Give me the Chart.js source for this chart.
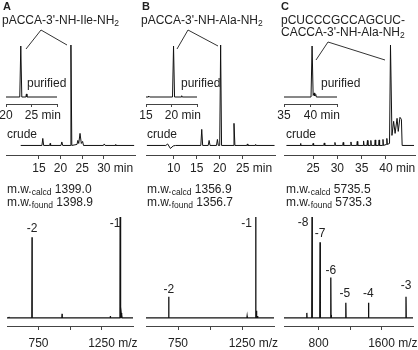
<!DOCTYPE html>
<html>
<head>
<meta charset="utf-8">
<script src="https://cdn.jsdelivr.net/npm/chart.js@4.4.0/dist/chart.umd.min.js"></script>
<style>
body { margin: 0; background: #fff; }
#fig { position: relative; width: 418px; height: 350px; overflow: hidden; background: #fff;
       font-family: "Liberation Sans", Arial, sans-serif; color: #222; }
#fig canvas { position: absolute; }
.t { position: absolute; font-size: 12px; line-height: 12px; white-space: nowrap; }
.t sub { font-size: 8.5px; line-height: 0; vertical-align: -2px; }
.lbl { font-weight: bold; font-size: 11px; line-height: 11px; }
svg { position: absolute; left: 0; top: 0; }
</style>
</head>
<body>
<div id="fig"></div>
<script>
// HPLC traces (time in min, absorbance relative to main peak = 100)
const insetA_time = [20, 22.7, 22.9, 23.1, 23.9, 24.0, 24.1, 30];
const insetA_abs  = [0, 0, 100, 0, 0, 6, 0, 0];
const crudeA_time = [10.8, 15.7, 15.9, 16.1, 17.5, 17.6, 17.7, 20.1, 20.3, 20.5, 22.2, 22.4, 22.6,
                     23.8, 24.0, 24.2, 24.5, 24.8, 25.1, 25.3, 29.9, 30.1, 30.3, 32.6, 32.7, 32.8, 37.0];
const crudeA_abs  = [0, 0, 7, 0, 0, 2, 0, 0, 3.5, 0, 0, 100, 0,
                     1, 5, 2, 12, 2, 4, 0, 0, 1.5, 0, 0, 1, 0, 0];

const insetB_time = [15, 15.4, 15.5, 15.7, 20.2, 20.4, 20.6, 21.9, 22.0, 22.1, 25];
const insetB_abs  = [0, 0, 2, 0, 0, 100, 0, 0, 2.5, 0, 0];
const crudeB_time = [4.2, 8.3, 8.7, 9.3, 9.9, 10.4, 15.9, 16.1, 16.3, 17.5, 17.7, 17.9, 19.3, 19.5, 19.7,
                     20.0, 20.2, 20.4, 22.9, 23.1, 23.3, 25.9, 26.0, 26.1, 27.7, 27.8, 27.9, 31.9];
const crudeB_abs  = [0, 0, 1.5, -3, -0.5, 0, 0, 16, 0, 0, 5, 0, 0, 6, 0,
                     0, 100, 0, 0, 22, 0, 0, 1.5, 0, 0, 1, 0, 0];

const insetC_time = [35, 40.1, 40.3, 40.5, 40.7, 40.8, 41.0, 41.1, 45];
const insetC_abs  = [0, 0, 100, 3, 8, 2, 5, 0, 0];
const crudeC_time = [19.5, 22.3, 22.4, 22.5, 24.9, 25.0, 25.1, 27.2, 27.3, 27.4, 29.4, 29.5, 29.6,
                     31.1, 31.2, 31.3, 32.7, 32.8, 32.9, 34.0, 34.1, 34.2, 35.3, 35.4, 35.5,
                     36.1, 36.2, 36.3, 36.8, 36.9, 37.0, 37.7, 37.8, 37.9, 38.5, 38.6, 38.7,
                     39.3, 39.4, 39.5, 40.1, 40.2, 40.3, 40.75, 40.95, 41.25, 41.6, 41.9, 42.3,
                     42.55, 42.9, 43.2, 43.35, 45.8];
const crudeC_abs  = [0, 0, 2, 0, 0, 2, 0, 0, 2.5, 0, 0, 3, 0,
                     0, 3, 0, 0, 3.5, 0, 0, 4, 0, 0, 4.5, 0,
                     0, 5, 0, 0, 5, 0, 0, 5.5, 0, 0, 5.5, 0,
                     0, 6, 0, 1, 7, 1, 2, 100, 10, 24, 12, 27,
                     14, 28, 26, 0, 0];

// ESI mass spectra (m/z, relative intensity)
const specA_mz  = [515, 698.5, 937, 1320, 1398, 1401, 1406, 1412];
const specA_int = [1, 80, 4, 2, 100, 8, 5, 3];
const specA_charge = ['-2', '-1'];
const specA_chargeMz = [698.5, 1398];

const specB_mz  = [677.5, 1290, 1357, 1360, 1365, 1372];
const specB_int = [21, 1.5, 100, 7, 4, 2];
const specB_charge = ['-2', '-1'];
const specB_chargeMz = [677.5, 1357];

const specC_mz  = [650, 716, 720, 818, 822, 955, 959, 1146, 1433, 1437, 1911];
const specC_int = [5, 100, 3, 75, 3, 40, 3, 15, 15, 3, 21];
const specC_charge = ['-8', '-7', '-6', '-5', '-4', '-3'];
const specC_chargeMz = [716, 818, 955, 1146, 1433, 1911];

// axis ticks
const crudeA_ticks = [15, 20, 25, 30], crudeA_shown = [15, 20, 25, 30];
const insetA_ticks = [20, 25, 30],     insetA_shown = [20, 25];
const crudeB_ticks = [10, 15, 20, 25], crudeB_shown = [10, 15, 20, 25];
const insetB_ticks = [15, 20, 25],     insetB_shown = [15, 20];
const crudeC_ticks = [25, 30, 35, 40], crudeC_shown = [25, 30, 35, 40];
const insetC_ticks = [35, 40, 45],     insetC_shown = [35, 40];
const specAB_ticks = [750, 1000, 1250], specAB_shown = [750, 1250];
const specC_ticks  = [800, 1200, 1600], specC_shown = [800, 1600];

const FONT = '"Liberation Sans", Arial, sans-serif';
Chart.defaults.font.family = FONT;
const fig = document.getElementById('fig');

function pts(xs, ys) {
    return xs.map((x, i) => ({ x: x, y: ys[i] }));
}

// turn a peak list into a stick trace across the full m/z range
function sticks(mz, inten, lo, hi, d) {
    const out = [{ x: lo, y: 0 }];
    mz.forEach((m, i) => {
        out.push({ x: m - d, y: 0 }, { x: m, y: inten[i] }, { x: m + d, y: 0 });
    });
    out.push({ x: hi, y: 0 });
    return out;
}

function makeChart(cfg) {
    const padL = 20, padR = 20, padT = 3;
    const c = document.createElement('canvas');
    const w = cfg.right - cfg.left + padL + padR;
    const h = padT + (cfg.bottom - cfg.top) + cfg.scaleH;
    c.width = w; c.height = h;
    c.style.left = (cfg.left - padL) + 'px';
    c.style.top = (cfg.top - padT) + 'px';
    fig.appendChild(c);

    // "min" / "m/z" written after the last labelled tick
    const unitPlugin = {
        id: 'unitLabel',
        afterDraw(chart) {
            const s = chart.scales.x;
            const item = s.getLabelItems().find(it => it.label === String(cfg.unitAfter));
            if (!item) return;
            const o = item.options || {};
            const tr = o.translation || item.translation;
            const ctx = chart.ctx;
            ctx.save();
            ctx.font = '12px ' + FONT;
            ctx.fillStyle = '#222';
            ctx.textAlign = 'left';
            ctx.textBaseline = o.textBaseline || 'top';
            const x = tr[0] + ctx.measureText(item.label).width / 2 + ctx.measureText(' ').width;
            ctx.fillText(cfg.unit, x, tr[1] + (item.textOffset || 0));
            ctx.restore();
        }
    };

    // charge state labels over the mass peaks
    const peakPlugin = {
        id: 'peakLabels',
        afterDatasetsDraw(chart) {
            if (!cfg.labels) return;
            const L = cfg.labels;
            const ctx = chart.ctx, sx = chart.scales.x, sy = chart.scales.y;
            ctx.save();
            ctx.font = '12px ' + FONT;
            ctx.fillStyle = '#222';
            ctx.textAlign = 'center';
            ctx.textBaseline = 'alphabetic';
            L.text.forEach((t, i) => {
                const v = L.int[L.mzAll.indexOf(L.mz[i])];
                ctx.fillText(t, sx.getPixelForValue(L.mz[i]) + L.dx[i], sy.getPixelForValue(v) + L.dy[i]);
            });
            ctx.restore();
        }
    };

    return new Chart(c, {
        type: 'line',
        data: {
            datasets: [{
                data: cfg.data,
                borderColor: '#111',
                borderWidth: cfg.lw || 1,
                pointRadius: 0,
                tension: 0,
                clip: false
            }]
        },
        options: {
            responsive: false,
            animation: false,
            devicePixelRatio: 1,
            layout: { padding: { left: padL, right: padR, top: padT, bottom: 0 } },
            plugins: { legend: { display: false }, tooltip: { enabled: false } },
            scales: {
                x: {
                    type: 'linear',
                    min: cfg.xmin, max: cfg.xmax,
                    afterBuildTicks: s => { s.ticks = cfg.ticks.map(v => ({ value: v })); },
                    afterFit: s => { s.height = cfg.scaleH; },
                    ticks: {
                        autoSkip: false, maxRotation: 0,
                        padding: cfg.tickPad,
                        color: '#222',
                        font: { size: 12, family: FONT },
                        callback: v => cfg.shown.includes(v) ? String(v) : ''
                    },
                    grid: { drawOnChartArea: false, drawTicks: true, tickLength: cfg.tickLen, color: '#444', lineWidth: 1 },
                    border: { display: true, color: '#444', width: 1 }
                },
                y: { display: false, min: cfg.ymin, max: 100 }
            }
        },
        plugins: [unitPlugin, peakPlugin]
    });
}

const chromo = { top: 45, bottom: 155, ymin: -9.5, scaleH: 24, tickLen: 4, tickPad: 2, unit: 'min' };
const inset  = { top: 46, bottom: 104, ymin: -13.7, scaleH: 20, tickLen: 3, tickPad: 1, unit: 'min' };
const spec   = { top: 217, bottom: 326, ymin: -8, scaleH: 24, tickLen: 4, tickPad: 6, unit: 'm/z', lw: 1.3 };

// panel A
makeChart(Object.assign({}, inset, { left: 6, right: 57, xmin: 20, xmax: 30,
    data: pts(insetA_time, insetA_abs), ticks: insetA_ticks, shown: insetA_shown, unitAfter: 25 }));
makeChart(Object.assign({}, chromo, { left: 6, right: 135, xmin: 7.4, xmax: 37.2,
    data: pts(crudeA_time, crudeA_abs), ticks: crudeA_ticks, shown: crudeA_shown, unitAfter: 30 }));
makeChart(Object.assign({}, spec, { left: 7, right: 133, xmin: 500, xmax: 1500,
    data: sticks(specA_mz, specA_int, 500, 1500, 1.5), ticks: specAB_ticks, shown: specAB_shown, unitAfter: 1250,
    labels: { text: specA_charge, mz: specA_chargeMz, mzAll: specA_mz, int: specA_int, dx: [0, -5], dy: [-5, 10] } }));

// panel B
makeChart(Object.assign({}, inset, { left: 146, right: 197, xmin: 15, xmax: 25,
    data: pts(insetB_time, insetB_abs), ticks: insetB_ticks, shown: insetB_shown, unitAfter: 20 }));
makeChart(Object.assign({}, chromo, { left: 146, right: 275, xmin: 4, xmax: 32,
    data: pts(crudeB_time, crudeB_abs), ticks: crudeB_ticks, shown: crudeB_shown, unitAfter: 25 }));
makeChart(Object.assign({}, spec, { left: 146, right: 274, xmin: 500, xmax: 1500,
    data: sticks(specB_mz, specB_int, 500, 1500, 1.5), ticks: specAB_ticks, shown: specAB_shown, unitAfter: 1250,
    labels: { text: specB_charge, mz: specB_chargeMz, mzAll: specB_mz, int: specB_int, dx: [0, -9], dy: [-4, 10] } }));

// panel C
makeChart(Object.assign({}, inset, { left: 284, right: 337, xmin: 35, xmax: 45,
    data: pts(insetC_time, insetC_abs), ticks: insetC_ticks, shown: insetC_shown, unitAfter: 40 }));
makeChart(Object.assign({}, chromo, { left: 284, right: 415, xmin: 19, xmax: 46,
    data: pts(crudeC_time, crudeC_abs), ticks: crudeC_ticks, shown: crudeC_shown, unitAfter: 40 }));
makeChart(Object.assign({}, spec, { left: 284, right: 413, xmin: 360, xmax: 2000,
    data: sticks(specC_mz, specC_int, 360, 2000, 3), ticks: specC_ticks, shown: specC_shown, unitAfter: 1600,
    labels: { text: specC_charge, mz: specC_chargeMz, mzAll: specC_mz, int: specC_int,
              dx: [-9, 0, 0, -1, 0, 0], dy: [9, -5, -4, -6, -6, -8] } }));

// text
function addText(x, base, html, cls) {
    const d = document.createElement('div');
    d.className = 't' + (cls ? ' ' + cls : '');
    const size = cls === 'lbl' ? 11 : 12;
    d.style.left = x + 'px';
    d.style.top = (base - size * 0.85) + 'px';
    d.innerHTML = html;
    fig.appendChild(d);
}
addText(3, 10, 'A', 'lbl');
addText(142, 10, 'B', 'lbl');
addText(281, 10, 'C', 'lbl');
addText(2, 24, "pACCA-3'-NH-Ile-NH<sub>2</sub>");
addText(141, 24, "pACCA-3'-NH-Ala-NH<sub>2</sub>");
addText(281, 24, "pCUCCCGCCAGCUC-");
addText(281, 36, "CACCA-3'-NH-Ala-NH<sub>2</sub>");
addText(27, 87, 'purified'); addText(181, 87, 'purified'); addText(321, 87, 'purified');
addText(7, 138, 'crude'); addText(147, 138, 'crude'); addText(286, 138, 'crude');
addText(7, 193.5, 'm.w.<sub>calcd</sub> 1399.0');
addText(7, 206.5, 'm.w.<sub>found</sub> 1398.9');
addText(147, 193.5, 'm.w.<sub>calcd</sub> 1356.9');
addText(147, 206.5, 'm.w.<sub>found</sub> 1356.7');
addText(286, 193.5, 'm.w.<sub>calcd</sub> 5735.5');
addText(286, 206.5, 'm.w.<sub>found</sub> 5735.3');

// leader lines from the names to the product peaks
const leaders = [[41, 30, 26, 49], [41, 30, 67, 45], [188, 30, 177, 49], [188, 30, 218, 46],
                 [328, 42, 316, 60], [328, 42, 385, 60]];
const ns = 'http://www.w3.org/2000/svg';
const svg = document.createElementNS(ns, 'svg');
svg.setAttribute('width', 418); svg.setAttribute('height', 350);
leaders.forEach(l => {
    const ln = document.createElementNS(ns, 'line');
    ln.setAttribute('x1', l[0]); ln.setAttribute('y1', l[1]);
    ln.setAttribute('x2', l[2]); ln.setAttribute('y2', l[3]);
    ln.setAttribute('stroke', '#333'); ln.setAttribute('stroke-width', 1);
    svg.appendChild(ln);
});
fig.appendChild(svg);
</script>
</body>
</html>
